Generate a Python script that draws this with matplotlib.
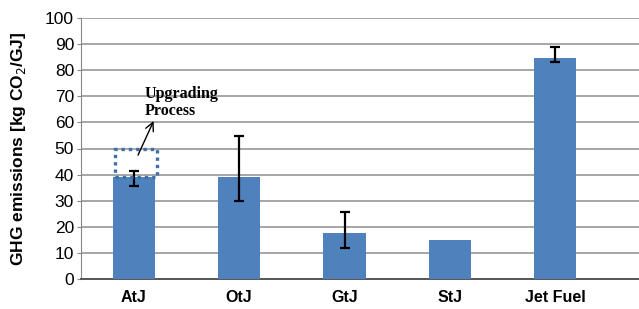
import numpy as np
import matplotlib
matplotlib.use("Agg")
import matplotlib.pyplot as plt
from matplotlib.patches import Rectangle

categories = ["AtJ", "OtJ", "GtJ", "StJ", "Jet Fuel"]
values = [39.2, 39.2, 17.7, 15.1, 84.8]
err_low = [35.6, 30.0, 11.8, None, 83.3]
err_high = [41.5, 54.8, 25.8, None, 88.9]
upgrade_top = 50  # dotted box on AtJ

yticks = list(range(0, 101, 10))

plt.rcParams['font.family'] = ['Liberation Sans', 'DejaVu Sans']

fig = plt.figure(figsize=(6.39, 3.09), dpi=100)
ax = fig.add_axes([81/639, 30/309, 1 - 81/639, 261/309])

x = np.arange(len(categories))
width = 0.4
ax.bar(x, values, width, color='#4F81BD', zorder=3)

for i in range(len(categories)):
    if err_low[i] is None:
        continue
    lo = values[i] - err_low[i]
    hi = err_high[i] - values[i]
    ax.errorbar(x[i], values[i], yerr=[[lo], [hi]], fmt='none', ecolor='black',
                elinewidth=1.6, capsize=3.5, capthick=1.6, zorder=4)

# dotted box for upgrading process
ax.add_patch(Rectangle((x[0] - width/2 + 0.02, values[0]), width, upgrade_top - values[0],
                       fill=False, edgecolor='#3F6FA8', linestyle=(0, (1, 1.2)),
                       linewidth=2.4, zorder=5))
ax.annotate("", xy=(0.2, 61.5), xytext=(0.03, 46.5),
            arrowprops=dict(arrowstyle='->,head_length=0.6,head_width=0.3',
                            color='black', lw=1.0), zorder=6)
ax.text(0.107, 69.5, "Upgrading", fontsize=11.5, fontweight='bold',
        family=['Liberation Serif'], zorder=6)
ax.text(0.107, 62.7, "Process", fontsize=11.5, fontweight='bold',
        family=['Liberation Serif'], zorder=6)

ax.set_ylim(0, 100)
ax.set_xlim(-0.5, 4.5 + (639 - 608) / 105.5)
ax.set_yticks(yticks)
ax.set_xticks(x)
ax.set_xticklabels(categories, fontweight='bold', fontsize=11.5)
ax.tick_params(axis='y', labelsize=12.5, length=3, color='#888888', pad=2)
ax.tick_params(axis='x', length=0, pad=8)
ax.yaxis.grid(True, color='#A6A6A6', linewidth=1.4, zorder=0)
ax.set_axisbelow(True)

for s in ['top', 'right']:
    ax.spines[s].set_visible(False)
ax.spines['left'].set_color('#888888')
ax.spines['bottom'].set_color('#555555')
ax.spines['bottom'].set_linewidth(1.4)

ax.set_ylabel("GHG emissions [kg CO$_2$/GJ]", fontsize=12.5, fontweight='bold')
ax.yaxis.set_label_coords(-0.095, 0.5)

fig.savefig("out.png", dpi=100)
